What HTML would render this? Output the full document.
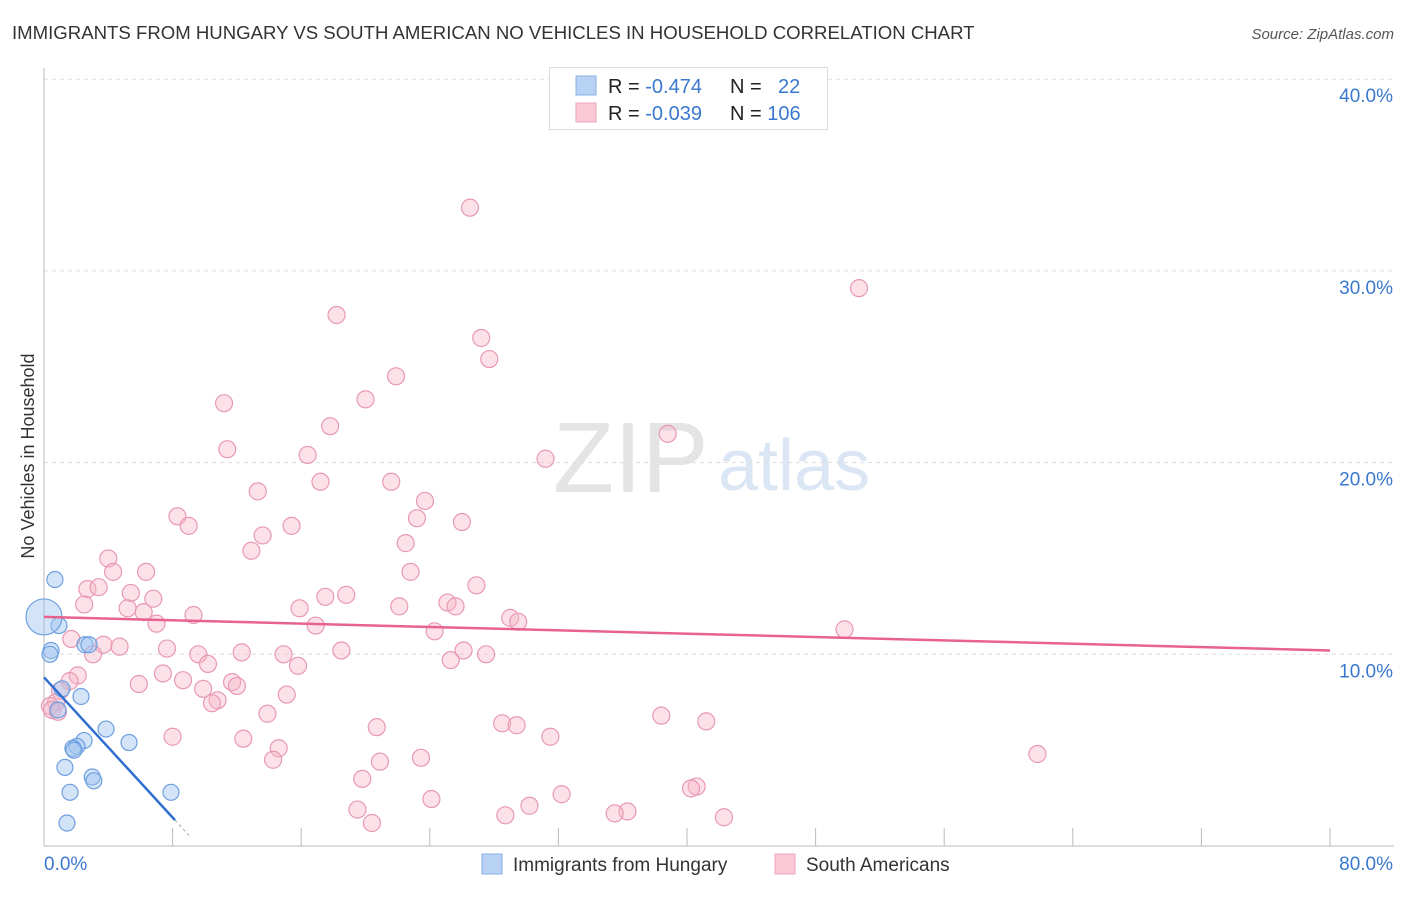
<!DOCTYPE html>
<html><head><meta charset="utf-8"><style>
body{margin:0;background:#fff;font-family:"Liberation Sans",sans-serif;}
svg text{font-family:"Liberation Sans",sans-serif;}
</style></head><body>
<svg id="chart" width="1406" height="892" xmlns="http://www.w3.org/2000/svg">
<text x="12" y="39" font-size="18.6" fill="#333">IMMIGRANTS FROM HUNGARY VS SOUTH AMERICAN NO VEHICLES IN HOUSEHOLD CORRELATION CHART</text>
<text x="1394" y="39" font-size="15" fill="#555" font-style="italic" text-anchor="end">Source: ZipAtlas.com</text>
<text transform="translate(34,456) rotate(-90)" font-size="18" fill="#333" text-anchor="middle">No Vehicles in Household</text>
<g>
<text x="553" y="492" font-size="100" fill="#e4e4e4" font-family="Liberation Serif">ZIP</text>
<text x="718" y="490" font-size="72" fill="#dbe6f5">atlas</text>
</g>
<g id="grid"></g>
<g id="marks"></g>
<g>
<rect x="549.5" y="67.5" width="278" height="62" fill="#fff" stroke="#ddd"/>
<rect x="576" y="76" width="20" height="19" fill="#b8d2f4" stroke="#8ab0e6"/>
<rect x="576" y="103" width="20" height="19" fill="#fbc8d6" stroke="#eea5ba"/>
<text x="608" y="93" font-size="20" fill="#222">R = <tspan fill="#3a78d0">-0.474</tspan></text>
<text x="730" y="93" font-size="20" fill="#222">N = <tspan x="778" fill="#3a78d0">22</tspan></text>
<text x="608" y="120" font-size="20" fill="#222">R = <tspan fill="#3a78d0">-0.039</tspan></text>
<text x="730" y="120" font-size="20" fill="#222">N = <tspan fill="#3a78d0">106</tspan></text>
</g>
<g>
<rect x="482" y="854" width="20" height="20" fill="#b8d2f4" stroke="#8ab0e6"/>
<text x="513" y="871" font-size="19" fill="#333">Immigrants from Hungary</text>
<rect x="775" y="854" width="20" height="20" fill="#fbc8d6" stroke="#eea5ba"/>
<text x="806" y="871" font-size="19" fill="#333">South Americans</text>
</g>
</svg>
<script>
const yTicks=[10,20,30,40];
const yTickLabels=["10.0%","20.0%","30.0%","40.0%"];
const xTicks=[0,8,16,24,32,40,48,56,64,72,80];
const hungaryX=[0.68,0.93,0.44,0.37,2.55,2.8,1.12,2.3,0.87,3.86,5.29,2.49,2.05,1.8,1.86,1.3,3.0,3.1,1.62,7.9,1.43,0];
const hungaryY=[13.9,11.5,10.2,10.0,10.5,10.5,8.2,7.8,7.1,6.1,5.4,5.5,5.2,5.1,5.0,4.1,3.6,3.4,2.8,2.8,1.2,11.95];
const hungaryR=[8,8,8,8,8,8,8,8,8,8,8,8,8,8,8,8,8,8,8,8,8,18];
const southX=[26.5,50.7,18.2,27.2,27.7,21.9,20.0,11.2,38.8,17.8,11.4,31.2,16.4,17.2,21.6,13.3,23.7,8.3,23.2,26.0,9.0,15.4,13.6,22.5,12.9,4.0,4.3,6.35,22.8,26.9,2.7,3.4,5.4,6.8,18.8,17.5,2.5,25.1,25.6,22.1,5.2,9.3,15.9,29.0,29.5,7.0,6.2,16.9,24.3,49.8,1.7,3.7,4.7,3.05,7.65,9.6,12.3,14.9,18.5,26.1,27.5,25.3,10.2,15.8,7.4,2.1,1.6,5.9,8.65,11.7,12.0,9.9,1.0,15.1,10.8,10.45,0.75,0.37,0.5,0.87,13.9,38.4,41.2,28.5,29.4,20.7,8.0,12.4,31.5,14.6,23.45,61.8,20.9,14.25,19.8,40.6,40.25,24.1,32.2,30.2,19.5,36.3,35.5,28.7,42.3,20.4];
const southY=[33.3,29.1,27.7,26.5,25.4,24.5,23.3,23.1,21.5,21.9,20.7,20.2,20.4,19.0,19.0,18.5,18.0,17.2,17.1,16.9,16.7,16.7,16.2,15.8,15.4,15.0,14.3,14.3,14.3,13.6,13.4,13.5,13.2,12.9,13.1,13.0,12.6,12.7,12.5,12.5,12.4,12.05,12.4,11.9,11.7,11.6,12.2,11.5,11.2,11.3,10.8,10.5,10.4,10.0,10.3,10.0,10.1,10.0,10.2,10.2,10.0,9.7,9.5,9.4,9.0,8.9,8.6,8.45,8.65,8.55,8.35,8.2,8.1,7.9,7.6,7.45,7.5,7.3,7.1,7.0,6.9,6.8,6.5,6.4,6.3,6.2,5.7,5.6,5.7,5.1,4.6,4.8,4.4,4.5,3.5,3.1,3.0,2.45,2.7,2.1,1.9,1.8,1.7,1.6,1.5,1.2];
const hungaryTrend=[[0,8.8],[8.15,1.35]];
const southTrend=[[0,11.95],[80,10.2]];
const NS="http://www.w3.org/2000/svg";
const X0=44,X1=1330,Y0=846,PY=19.17;
function sx(v){return X0+(X1-X0)*v/80;}
function sy(v){return Y0-v*PY;}
function mk(tag,attrs,parent){const e=document.createElementNS(NS,tag);for(const k in attrs)e.setAttribute(k,attrs[k]);parent.appendChild(e);return e;}
const grid=document.getElementById('grid'),marks=document.getElementById('marks');
yTicks.forEach((t,i)=>{
 const l=mk('line',{x1:X0,x2:1394,y1:sy(t),y2:sy(t),stroke:'#ddd','stroke-dasharray':'4,4'},grid);
 
 
 const tx=mk('text',{x:1393,y:sy(t)+23,'font-size':19,fill:'#3a78d0','text-anchor':'end'},grid);
 tx.textContent=yTickLabels[i];
 
 
});
const ya=mk('line',{x1:X0,x2:X0,y1:68,y2:Y0,stroke:'#bbb'},grid);


const xa=mk('line',{x1:X0,x2:1394,y1:Y0,y2:Y0,stroke:'#bbb'},grid);


xTicks.forEach(t=>{
 const l=mk('line',{x1:sx(t),x2:sx(t),y1:828,y2:Y0,stroke:'#bbb'},grid);
 
 
});
const xl0=mk('text',{x:44,y:870,'font-size':19,fill:'#3a78d0'},grid);xl0.textContent='0.0%';


const xl1=mk('text',{x:1393,y:870,'font-size':19,fill:'#3a78d0','text-anchor':'end'},grid);xl1.textContent='80.0%';


southX.forEach((v,i)=>{
 const c=mk('circle',{cx:sx(v),cy:sy(southY[i]),r:8.5,fill:'rgba(248,180,200,0.4)',stroke:'#e899b2','stroke-width':1.2},marks);
 
 
});
hungaryX.forEach((v,i)=>{
 const c=mk('circle',{cx:sx(v),cy:sy(hungaryY[i]),r:hungaryR[i],fill:'rgba(160,196,240,0.45)',stroke:'#6d9fe0','stroke-width':1.2},marks);
 
 
});
const pt=mk('line',{x1:sx(southTrend[0][0]),y1:sy(southTrend[0][1]),x2:sx(southTrend[1][0]),y2:sy(southTrend[1][1]),stroke:'#e8628f','stroke-width':2.5},marks);


const bt=mk('line',{x1:sx(hungaryTrend[0][0]),y1:sy(hungaryTrend[0][1]),x2:sx(hungaryTrend[1][0]),y2:sy(hungaryTrend[1][1]),stroke:'#2f6fd0','stroke-width':2.5},marks);


const slope=(hungaryTrend[1][1]-hungaryTrend[0][1])/(hungaryTrend[1][0]-hungaryTrend[0][0]);
const bx=hungaryTrend[1][0]+1;
const bd=mk('line',{x1:sx(hungaryTrend[1][0]),y1:sy(hungaryTrend[1][1]),x2:sx(bx),y2:sy(hungaryTrend[1][1]+slope),stroke:'#9ab',"stroke-dasharray":'3,3','stroke-width':1},marks);


</script>
</body></html>
